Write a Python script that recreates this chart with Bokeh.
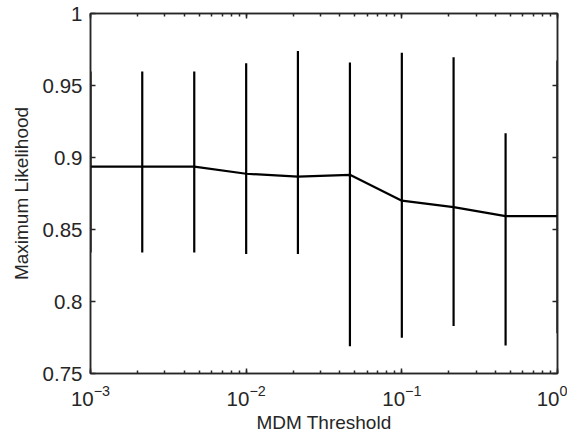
from bokeh.plotting import figure
from bokeh.models import LogAxis, LinearAxis, FixedTicker, Range1d, ColumnDataSource
from bokeh.embed import file_html
from bokeh.resources import INLINE

# Data
thresholds = [0.001, 0.00215, 0.00464, 0.01, 0.0215, 0.0464, 0.1, 0.215, 0.464, 1.0]
likelihood = [0.8937, 0.8937, 0.8937, 0.8887, 0.8867, 0.8880, 0.8700, 0.8655, 0.8593, 0.8593]
upper = [0.9597, 0.9597, 0.9597, 0.9655, 0.9740, 0.9660, 0.9727, 0.9697, 0.9169, 0.9674]
lower = [0.8340, 0.8340, 0.8340, 0.8330, 0.8330, 0.7690, 0.7748, 0.7829, 0.7694, 0.7780]
y_ticks = [0.75, 0.8, 0.85, 0.9, 0.95, 1.0]

FONT = "Liberation Sans"
TXT = "#262626"

p = figure(width=567, height=435, x_axis_type="log",
           x_range=Range1d(0.001, 1.0), y_range=Range1d(0.75, 1.0),
           output_backend="svg", toolbar_location=None,
           min_border_left=90, min_border_right=10, min_border_top=13, min_border_bottom=62)

p.xgrid.visible = False
p.ygrid.visible = False
p.outline_line_color = TXT
p.outline_line_width = 1.5
p.background_fill_color = "white"
p.border_fill_color = "white"

src = ColumnDataSource(dict(x=thresholds, y=likelihood, up=upper, lo=lower))
p.segment(x0="x", y0="lo", x1="x", y1="up", source=src, line_color="black", line_width=2.2)
p.line(x="x", y="y", source=src, line_color="black", line_width=2.2)

xa = p.xaxis[0]
ya = p.yaxis[0]
ya.ticker = FixedTicker(ticks=y_ticks)
ya.major_label_overrides = {0.75: "0.75", 0.8: "0.8", 0.85: "0.85", 0.9: "0.9", 0.95: "0.95", 1.0: "1"}

for ax in (xa, ya):
    ax.major_tick_in = 5
    ax.major_tick_out = 0
    ax.minor_tick_in = 3
    ax.minor_tick_out = 0
    ax.axis_line_color = TXT
    ax.axis_line_width = 1.5
    ax.major_tick_line_color = TXT
    ax.major_tick_line_width = 1.5
    ax.minor_tick_line_color = TXT
    ax.minor_tick_line_width = 1.5
    ax.major_label_text_font = FONT
    ax.major_label_text_font_size = "20.5px"
    ax.major_label_text_color = TXT
    ax.axis_label_text_font = FONT
    ax.axis_label_text_font_size = "19px"
    ax.axis_label_text_font_style = "normal"
    ax.axis_label_text_color = TXT

ya.minor_tick_line_color = None
ya.major_label_standoff = 8
xa.major_label_standoff = 11
xa.axis_label = "MDM Threshold"
ya.axis_label = "Maximum Likelihood"
xa.axis_label_standoff = 3
ya.axis_label_standoff = 8

# mirrored ticks on top and right
top = LogAxis(ticker=xa.ticker)
right = LinearAxis(ticker=FixedTicker(ticks=y_ticks))
for ax in (top, right):
    ax.major_tick_in = 5
    ax.major_tick_out = 0
    ax.minor_tick_in = 3
    ax.minor_tick_out = 0
    ax.axis_line_color = TXT
    ax.axis_line_width = 1.5
    ax.major_tick_line_color = TXT
    ax.major_tick_line_width = 1.5
    ax.minor_tick_line_color = TXT
    ax.minor_tick_line_width = 1.5
    ax.major_label_text_font_size = "1px"
    ax.major_label_text_color = None
    ax.major_label_standoff = 0
right.minor_tick_line_color = None
p.add_layout(top, "above")
p.add_layout(right, "right")

open("out.html", "w").write(file_html(p, INLINE))
